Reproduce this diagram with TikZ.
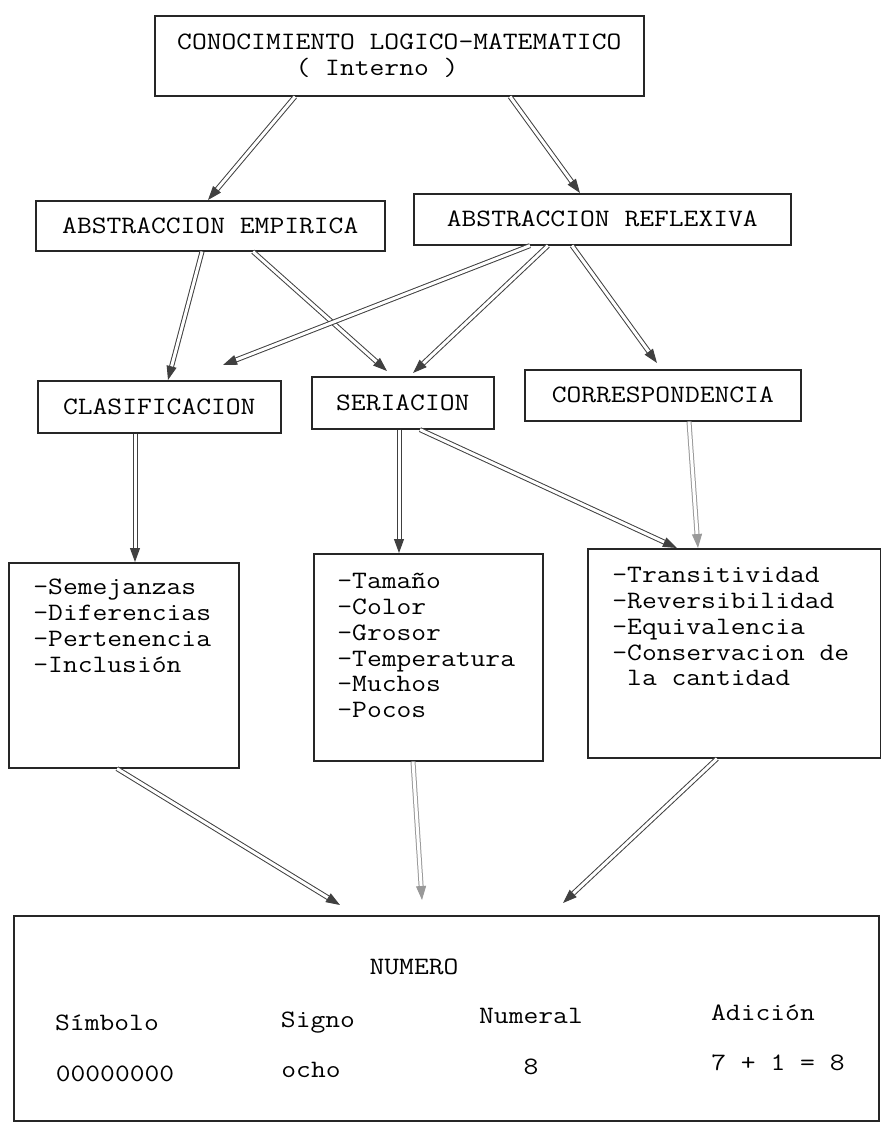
\documentclass[tikz,border=0pt]{standalone}
\usepackage{fontspec}
\setmonofont[FakeStretch=1.15]{Latin Modern Mono}
\usetikzlibrary{arrows.meta,calc,positioning}
\newcommand{\letra}{\fontsize{12.5pt}{12.9pt}\selectfont\ttfamily}
\tikzset{
    cajasty/.style={draw=black!85,line width=0.8pt,rectangle,inner sep=0pt,anchor=north west,font=\letra},
    listasty/.style={align=left,inner sep=0pt,font=\letra},
    textosty/.style={inner sep=0pt,anchor=base,font=\letra},
    flechasty/.style={draw=black!75,line width=0.5pt,double,double distance=1.5pt,-{Triangle[length=7pt,width=5pt]}},
    tenuesty/.style={flechasty,draw=black!40},
}

\begin{document}
\begin{tikzpicture}[x=0.5pt,y=-0.5pt]
  \useasboundingbox (0,0) rectangle (881,1126);

  % cajas de arriba
  \node[cajasty,minimum width=244.5pt,minimum height=40pt,align=left] (cono) at (154,15)
       {CONOCIMIENTO LOGICO-MATEMATICO\\\hphantom{00000000}( Interno )};
  \node[cajasty,minimum width=174.5pt,minimum height=25pt] (abemp) at (35,200) {ABSTRACCION EMPIRICA};
  \node[cajasty,minimum width=188.5pt,minimum height=25.5pt] (abref) at (413,193) {ABSTRACCION REFLEXIVA};
  \node[cajasty,minimum width=121.5pt,minimum height=26pt] (clas) at (37,380) {CLASIFICACION};
  \node[cajasty,minimum width=91pt,minimum height=26pt] (seri) at (311,376) {SERIACION};
  \node[cajasty,minimum width=138pt,minimum height=25.5pt] (corr) at (524,369) {CORRESPONDENCIA};

  % cajas de propiedades
  \node[cajasty,minimum width=115pt,minimum height=102.5pt] (prop1) at (8,562) {};
  \node[cajasty,minimum width=114.5pt,minimum height=103.5pt] (prop2) at (313,553) {};
  \node[cajasty,minimum width=146.5pt,minimum height=104.5pt] (prop3) at (587,548) {};
  \node[listasty,below right=8.5pt and 12.5pt of prop1.north west] (lista1)
       {-Semejanzas\\-Diferencias\\-Pertenencia\\-Inclusión};
  \node[listasty,below right=10pt and 12pt of prop2.north west] (lista2)
       {-Tamaño\\-Color\\-Grosor\\-Temperatura\\-Muchos\\-Pocos};
  \node[listasty,below right=9.5pt and 12.5pt of prop3.north west] (lista3)
       {-Transitividad\\-Reversibilidad\\-Equivalencia\\-Conservacion de\\\hphantom{-}la cantidad};

  % caja del numero
  \node[cajasty,minimum width=432.5pt,minimum height=102.5pt] (num) at (13,915) {};
  \node[textosty] (titulo) at (414,974) {NUMERO};
  \node[textosty] (nsim) at (107,1030) {Símbolo};
  \node[textosty] (nsig) at (318,1027) {Signo};
  \node[textosty] (nnum) at (531,1023) {Numeral};
  \node[textosty] (nadi) at (763,1020) {Adición};
  \node[textosty] (vsim) at (115,1081) {00000000};
  \node[textosty] (vsig) at (311,1077) {ocho};
  \node[textosty] (vnum) at (531,1074) {8};
  \node[textosty] (vadi) at (778,1070) {7 + 1 = 8};

  % flechas
  \draw[flechasty] (295,0 |- cono.south) -- (208,0 |- abemp.north);
  \draw[flechasty] (510,0 |- cono.south) -- (580,0 |- abref.north);
  \draw[flechasty] (202,0 |- abemp.south) -- (168,0 |- clas.north);
  \draw[flechasty] (253,0 |- abemp.south) -- ($(387,0 |- seri.north)+(0,-5)$);
  \draw[flechasty] (530,0 |- abref.south) -- ($(223,0 |- clas.north)+(0,-15)$);
  \draw[flechasty] (548,0 |- abref.south) -- ($(413,0 |- seri.north)+(0,-3)$);
  \draw[flechasty] (572,0 |- abref.south) -- ($(657,0 |- corr.north)+(0,-6)$);
  \draw[flechasty] (135,0 |- clas.south) -- (135,0 |- prop1.north);
  \draw[flechasty] (399,0 |- seri.south) -- (399,0 |- prop2.north);
  \draw[flechasty] (420,0 |- seri.south) -- (677,0 |- prop3.north);
  \draw[tenuesty] (689,0 |- corr.south) -- (698,0 |- prop3.north);
  \draw[flechasty] (117,0 |- prop1.south) -- ($(340,0 |- num.north)+(0,-10)$);
  \draw[tenuesty] (413,0 |- prop2.south) -- ($(422,0 |- num.north)+(0,-15)$);
  \draw[flechasty] (717,0 |- prop3.south) -- ($(563,0 |- num.north)+(0,-12)$);
\end{tikzpicture}
\end{document}
